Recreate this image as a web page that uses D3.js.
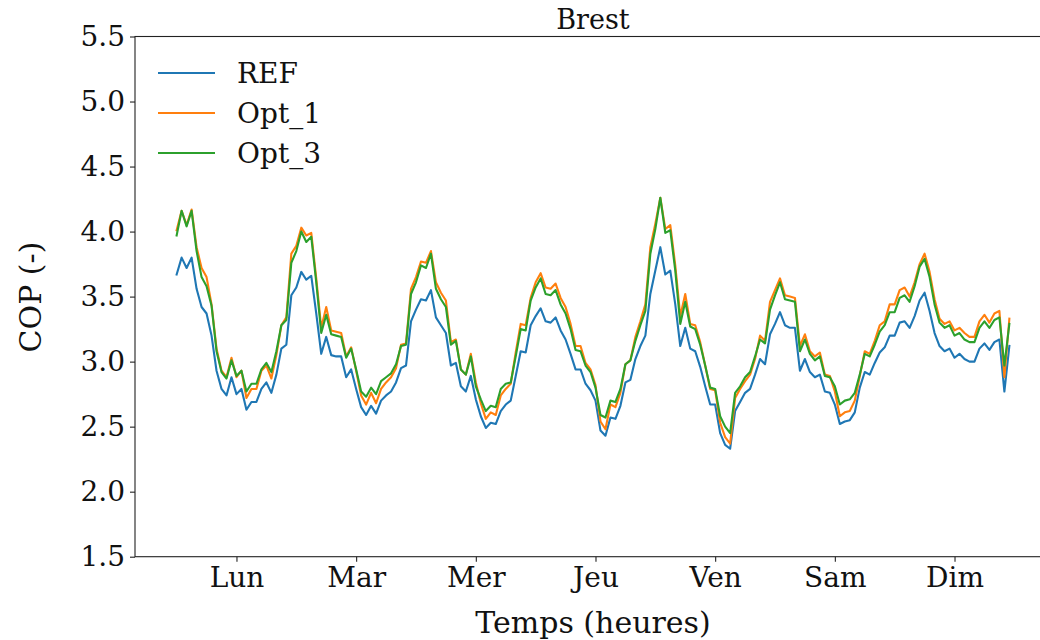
<!DOCTYPE html>
<html>
<head>
<meta charset="utf-8">
<script src="https://cdn.jsdelivr.net/npm/d3@7"></script>
<style>
  html, body { margin: 0; padding: 0; background: #fff; }
  svg { display: block; font-family: "DejaVu Serif", serif; }
</style>
</head>
<body>
<svg id="chart" width="1040" height="640"></svg>
<script>
const title = "Brest";
const xLabel = "Temps (heures)";
const yLabel = "COP (-)";
const dayTicks = [12, 36, 60, 84, 108, 132, 156];
const dayLabels = ["Lun", "Mar", "Mer", "Jeu", "Ven", "Sam", "Dim"];
const yTicks = [1.5, 2.0, 2.5, 3.0, 3.5, 4.0, 4.5, 5.0, 5.5];
const seriesNames = ["REF", "Opt_1", "Opt_3"];
const seriesColors = ["#1f77b4", "#ff7f0e", "#2ca02c"];

const refValues = [
3.67,3.80,3.72,3.80,3.56,3.42,3.37,3.20,2.93,2.79,2.74,2.88,2.75,2.79,2.63,2.69,2.69,2.79,2.84,2.76,
2.90,3.10,3.13,3.51,3.57,3.69,3.63,3.66,3.37,3.06,3.19,3.05,3.04,3.04,2.88,2.94,2.79,2.65,2.59,2.66,
2.60,2.70,2.74,2.77,2.84,2.95,2.97,3.31,3.40,3.48,3.47,3.55,3.34,3.28,3.22,2.97,2.99,2.81,2.77,2.89,
2.71,2.58,2.49,2.53,2.52,2.62,2.67,2.70,2.89,3.08,3.07,3.28,3.35,3.41,3.31,3.30,3.34,3.24,3.17,3.06,
2.94,2.94,2.83,2.78,2.70,2.47,2.43,2.57,2.56,2.66,2.84,2.86,3.02,3.12,3.20,3.52,3.70,3.88,3.67,3.70,
3.44,3.12,3.26,3.10,3.08,2.96,2.81,2.67,2.67,2.45,2.36,2.33,2.62,2.69,2.76,2.79,2.90,3.02,2.98,3.21,
3.29,3.38,3.28,3.26,3.26,2.93,3.02,2.92,2.88,2.90,2.77,2.76,2.67,2.52,2.54,2.55,2.61,2.80,2.92,2.90,
2.99,3.07,3.11,3.20,3.20,3.30,3.31,3.26,3.35,3.47,3.53,3.39,3.22,3.12,3.08,3.10,3.03,3.06,3.02,3.00,
3.00,3.10,3.14,3.09,3.15,3.17,2.77,3.12];

const opt1Values = [
4.01,4.16,4.05,4.17,3.88,3.72,3.65,3.44,3.10,2.93,2.88,3.03,2.88,2.93,2.72,2.79,2.79,2.93,2.97,2.87,
3.05,3.28,3.34,3.83,3.89,4.03,3.97,3.99,3.64,3.26,3.42,3.24,3.23,3.22,3.04,3.11,2.93,2.74,2.67,2.76,
2.68,2.79,2.84,2.88,2.95,3.13,3.14,3.56,3.65,3.77,3.76,3.85,3.61,3.53,3.47,3.15,3.17,2.94,2.90,3.06,
2.84,2.68,2.56,2.61,2.59,2.74,2.79,2.83,3.07,3.29,3.28,3.49,3.61,3.68,3.57,3.56,3.60,3.49,3.42,3.29,
3.12,3.12,2.99,2.94,2.82,2.54,2.48,2.67,2.65,2.76,2.98,3.01,3.19,3.31,3.44,3.88,4.06,4.26,4.02,4.05,
3.74,3.35,3.52,3.29,3.28,3.15,2.97,2.79,2.78,2.53,2.42,2.37,2.72,2.79,2.85,2.90,3.02,3.20,3.16,3.46,
3.55,3.64,3.51,3.50,3.49,3.12,3.21,3.08,3.04,3.07,2.90,2.89,2.77,2.58,2.61,2.62,2.70,2.89,3.08,3.06,
3.16,3.28,3.31,3.44,3.44,3.55,3.57,3.50,3.61,3.75,3.83,3.69,3.48,3.33,3.29,3.31,3.24,3.26,3.22,3.19,
3.19,3.31,3.36,3.30,3.37,3.39,2.88,3.33];

const opt3Values = [
3.97,4.16,4.04,4.16,3.85,3.65,3.58,3.43,3.08,2.92,2.87,3.01,2.89,2.93,2.77,2.83,2.83,2.94,2.99,2.92,
3.08,3.28,3.32,3.76,3.85,4.00,3.92,3.96,3.61,3.22,3.36,3.21,3.20,3.19,3.03,3.10,2.94,2.77,2.73,2.80,
2.75,2.85,2.88,2.91,2.98,3.12,3.13,3.52,3.61,3.74,3.72,3.83,3.56,3.48,3.42,3.13,3.16,2.94,2.90,3.04,
2.81,2.71,2.62,2.66,2.65,2.79,2.83,2.84,3.04,3.25,3.24,3.47,3.57,3.64,3.52,3.51,3.55,3.44,3.37,3.25,
3.09,3.08,2.97,2.92,2.80,2.59,2.57,2.70,2.69,2.79,2.98,3.01,3.16,3.28,3.39,3.83,4.02,4.26,3.99,4.01,
3.70,3.29,3.46,3.27,3.25,3.13,2.97,2.80,2.79,2.58,2.50,2.45,2.76,2.81,2.88,2.92,3.04,3.17,3.14,3.40,
3.51,3.61,3.48,3.47,3.46,3.08,3.17,3.06,3.01,3.04,2.89,2.88,2.81,2.67,2.70,2.71,2.76,2.90,3.06,3.04,
3.13,3.23,3.28,3.38,3.38,3.49,3.51,3.46,3.58,3.73,3.79,3.65,3.44,3.30,3.26,3.28,3.20,3.22,3.17,3.15,
3.15,3.26,3.31,3.26,3.32,3.34,2.97,3.29];

const allSeries = [refValues, opt1Values, opt3Values];

const svg = d3.select("#chart");
const plotL = 135, plotR = 1051, plotT = 36.5, plotB = 556.7;

const n = refValues.length;
const pad = 0.05 * (n - 1);
const x = d3.scaleLinear().domain([-pad, (n - 1) + pad]).range([plotL, plotR]);
const y = d3.scaleLinear().domain([1.5, 5.5]).range([plotB, plotT]);

const tickFont = 28;

// lines
const line = d3.line().x((d, i) => x(i)).y(d => y(d));
allSeries.forEach((vals, k) => {
  svg.append("path")
    .datum(vals)
    .attr("fill", "none")
    .attr("stroke", seriesColors[k])
    .attr("stroke-width", 2.1)
    .attr("stroke-linejoin", "round")
    .attr("stroke-linecap", "square")
    .attr("d", line);
});

// axes
const xAxis = d3.axisBottom(x).tickValues(dayTicks)
  .tickFormat((d, i) => dayLabels[i]).tickSize(5).tickPadding(5);
const gx = svg.append("g").attr("transform", `translate(0,${plotB})`).call(xAxis);
gx.select(".domain").remove();
gx.selectAll("line").attr("stroke", "#222").attr("stroke-width", 1.1);
gx.selectAll("text").attr("font-family", "DejaVu Serif").attr("font-size", tickFont).attr("fill", "#111");

const yAxis = d3.axisLeft(y).tickValues(yTicks).tickFormat(d3.format(".1f")).tickSize(5).tickPadding(5);
const gy = svg.append("g").attr("transform", `translate(${plotL},0)`).call(yAxis);
gy.select(".domain").remove();
gy.selectAll("line").attr("stroke", "#222").attr("stroke-width", 1.1);
gy.selectAll("text").attr("font-family", "DejaVu Serif").attr("font-size", tickFont).attr("fill", "#111");

// spines
svg.append("rect")
  .attr("x", plotL).attr("y", plotT)
  .attr("width", plotR - plotL).attr("height", plotB - plotT)
  .attr("fill", "none").attr("stroke", "#222").attr("stroke-width", 1.1);

// title and labels
svg.append("text").attr("x", (plotL + plotR) / 2).attr("y", 29)
  .attr("text-anchor", "middle").attr("font-size", 27).attr("fill", "#111").text(title);
svg.append("text").attr("x", (plotL + plotR) / 2).attr("y", 633)
  .attr("text-anchor", "middle").attr("font-size", 30).attr("fill", "#111").text(xLabel);
svg.append("text").attr("transform", `translate(41,297) rotate(-90)`)
  .attr("text-anchor", "middle").attr("font-size", 30).attr("fill", "#111").text(yLabel);

// legend
const leg = svg.append("g");
seriesNames.forEach((name, k) => {
  const cy = 73 + k * 40;
  leg.append("line").attr("x1", 158).attr("x2", 215).attr("y1", cy).attr("y2", cy)
    .attr("stroke", seriesColors[k]).attr("stroke-width", 2.1);
  leg.append("text").attr("x", 237).attr("y", cy).attr("dy", "0.35em")
    .attr("font-size", 28).attr("fill", "#111").text(name);
});
</script>
</body>
</html>
